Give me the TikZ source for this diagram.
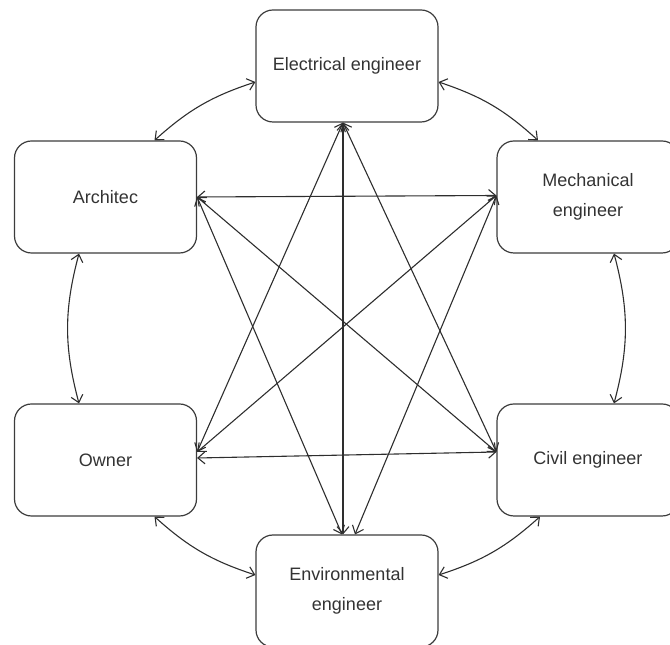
\documentclass[tikz,border=0pt]{standalone}
\usepackage{fontspec}
\setmainfont{Liberation Sans}
\usetikzlibrary{arrows.meta}
\definecolor{edgegray}{HTML}{2E2E2E}
\definecolor{framegray}{HTML}{3C3C3C}
\definecolor{textgray}{HTML}{333333}
\begin{document}
\begin{tikzpicture}[x=1pt,y=1pt,
  party/.style={draw=framegray, line width=1.2pt, rounded corners=17pt,
    minimum width=182pt, minimum height=112pt, inner sep=0pt, align=center,
    font=\fontsize{18}{30}\selectfont, text=textgray},
  link/.style={draw=edgegray, line width=1.1pt,
    {Straight Barb[length=7pt,width=12pt]}-{Straight Barb[length=7pt,width=12pt]}},
]
\useasboundingbox (0,0) rectangle (670,645);

% the six parties
\node[party] (E)   at (347,579)   {Electrical engineer};
\node[party] (A)   at (105.5,448) {Architec};
\node[party] (M)   at (588,448)   {Mechanical\\engineer};
\node[party] (O)   at (105.5,185) {Owner};
\node[party] (C)   at (588,185)   {Civil engineer};
\node[party] (Env) at (347,54)    {Environmental\\engineer};

% links between neighbours around the ring
\draw[link] ([yshift=-16pt]E.west) to[bend right=12] ([xshift=49pt]A.north);
\draw[link] ([yshift=-16pt]E.east) to[bend left=12]  ([xshift=-50pt]M.north);
\draw[link] ([xshift=-26.5pt]A.south) to[bend right=15] ([xshift=-26.5pt]O.north);
\draw[link] ([xshift=26pt]M.south) to[bend left=15] ([xshift=26pt]C.north);
\draw[link] ([xshift=49pt]O.south) to[bend right=12] ([yshift=16pt]Env.west);
\draw[link] ([xshift=-48pt]C.south) to[bend left=12] ([yshift=16pt]Env.east);

% straight links across the ring
\draw[link] (A.east) -- ([yshift=1.5pt]M.west);
\draw[link] ([yshift=2pt]O.east) -- ([yshift=8pt]C.west);
\draw[link] (A.east) -- ([yshift=8pt]C.west);
\draw[link] ([yshift=8pt]O.east) -- ([yshift=1.5pt]M.west);
\draw[link] ([xshift=-4pt]E.south) -- ([xshift=-4pt]Env.north);
\draw[link] ([xshift=-4pt]E.south) -- ([yshift=8pt]O.east);
\draw[link] ([xshift=-4pt]E.south) -- ([yshift=8pt]C.west);
\draw[link] (A.east) -- ([xshift=-5pt]Env.north);
\draw[link] ([yshift=1.5pt]M.west) -- ([xshift=8pt]Env.north);
\end{tikzpicture}
\end{document}
